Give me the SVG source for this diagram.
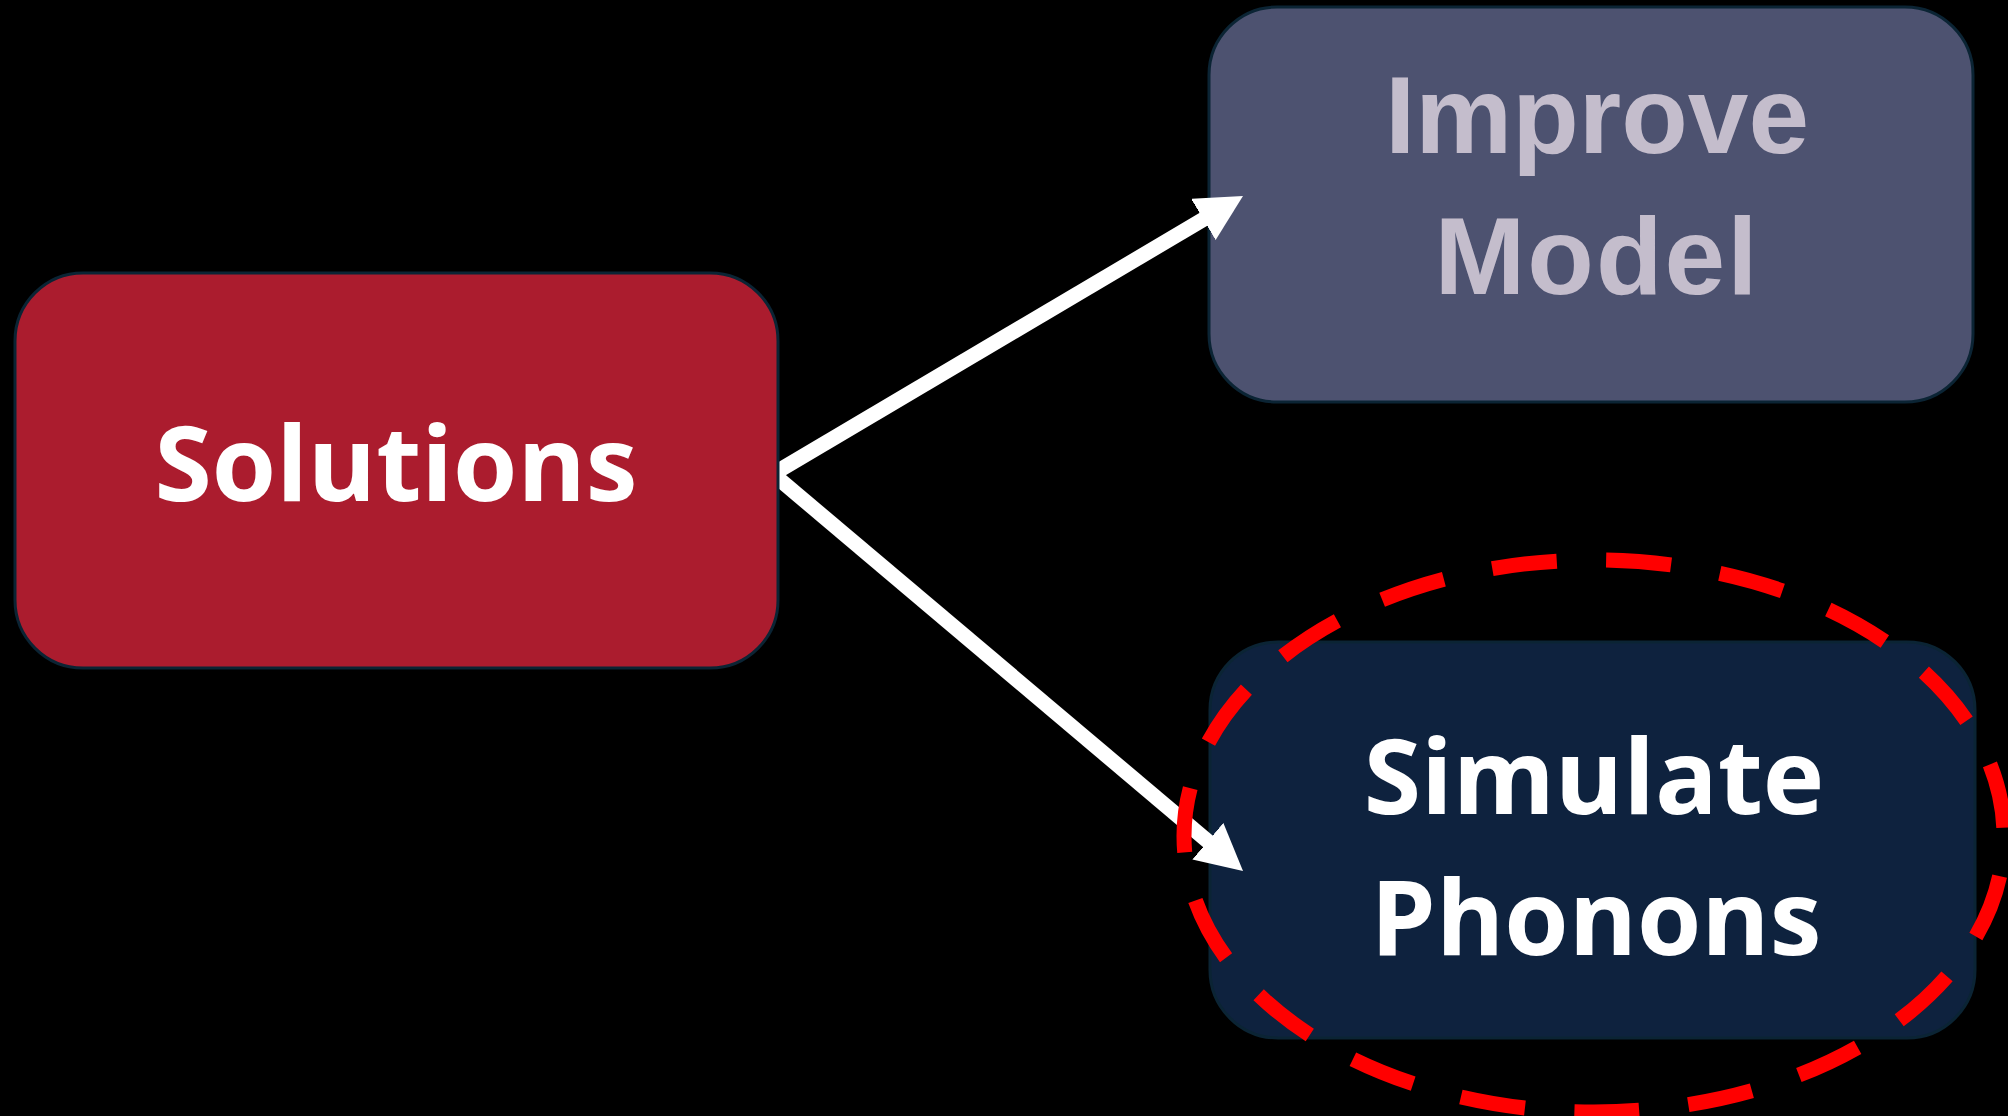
<svg xmlns="http://www.w3.org/2000/svg" width="2008" height="1116" viewBox="0 0 2008 1116">
  <style>
    .box { stroke: #0b2434; stroke-width: 3; }
    .lbl { font-family: "Open Sans", "Liberation Sans", sans-serif; font-weight: 700; font-size: 104px; fill: #ffffff; text-anchor: middle; }
    .lbl-muted { font-family: "Liberation Sans", Arial, sans-serif; font-weight: 700; font-size: 109px; fill: #c4bdcc; text-anchor: middle; }
    .link { fill: none; stroke: #ffffff; stroke-width: 15; stroke-linejoin: miter; }
    .focus { fill: none; stroke: #ff0000; stroke-width: 15; stroke-dasharray: 65 49.5; stroke-dashoffset: 74; }
  </style>
  <defs>
    <marker id="head" viewBox="0 0 46 48" refX="10" refY="24" markerWidth="46" markerHeight="48" markerUnits="userSpaceOnUse" orient="auto">
      <path d="M0,0 L46,24 L0,48 z" fill="#ffffff"/>
    </marker>
  </defs>

  <rect width="2008" height="1116" fill="#000000"/>

  <g id="node-improve-model">
    <rect class="box" x="1209" y="7" width="764" height="395" rx="68" ry="68" fill="#4d5270"/>
    <text class="lbl-muted" x="1597" y="153">Improve</text>
    <text class="lbl-muted" x="1597" y="294" font-size="112" letter-spacing="2">Model</text>
  </g>

  <g id="node-simulate-phonons">
    <rect class="box" x="1210" y="642" width="765" height="396" rx="68" ry="68" fill="#0e223e"/>
    <text class="lbl" x="1594" y="814">Simulate</text>
    <text class="lbl" x="1596" y="955">Phonons</text>
  </g>

  <g id="connectors">
    <path class="link" d="M773,474 L1212,214.3" marker-end="url(#head)"/>
    <path class="link" d="M773,474 L1215.5,847.7" marker-end="url(#head)"/>
  </g>

  <g id="node-solutions">
    <rect class="box" x="15" y="273" width="763" height="395" rx="68" ry="68" fill="#ab1c2e"/>
    <text class="lbl" x="396" y="501" font-size="105">Solutions</text>
  </g>

  <g id="highlight">
    <ellipse class="focus" cx="1594" cy="836" rx="410" ry="276"/>
  </g>
</svg>
